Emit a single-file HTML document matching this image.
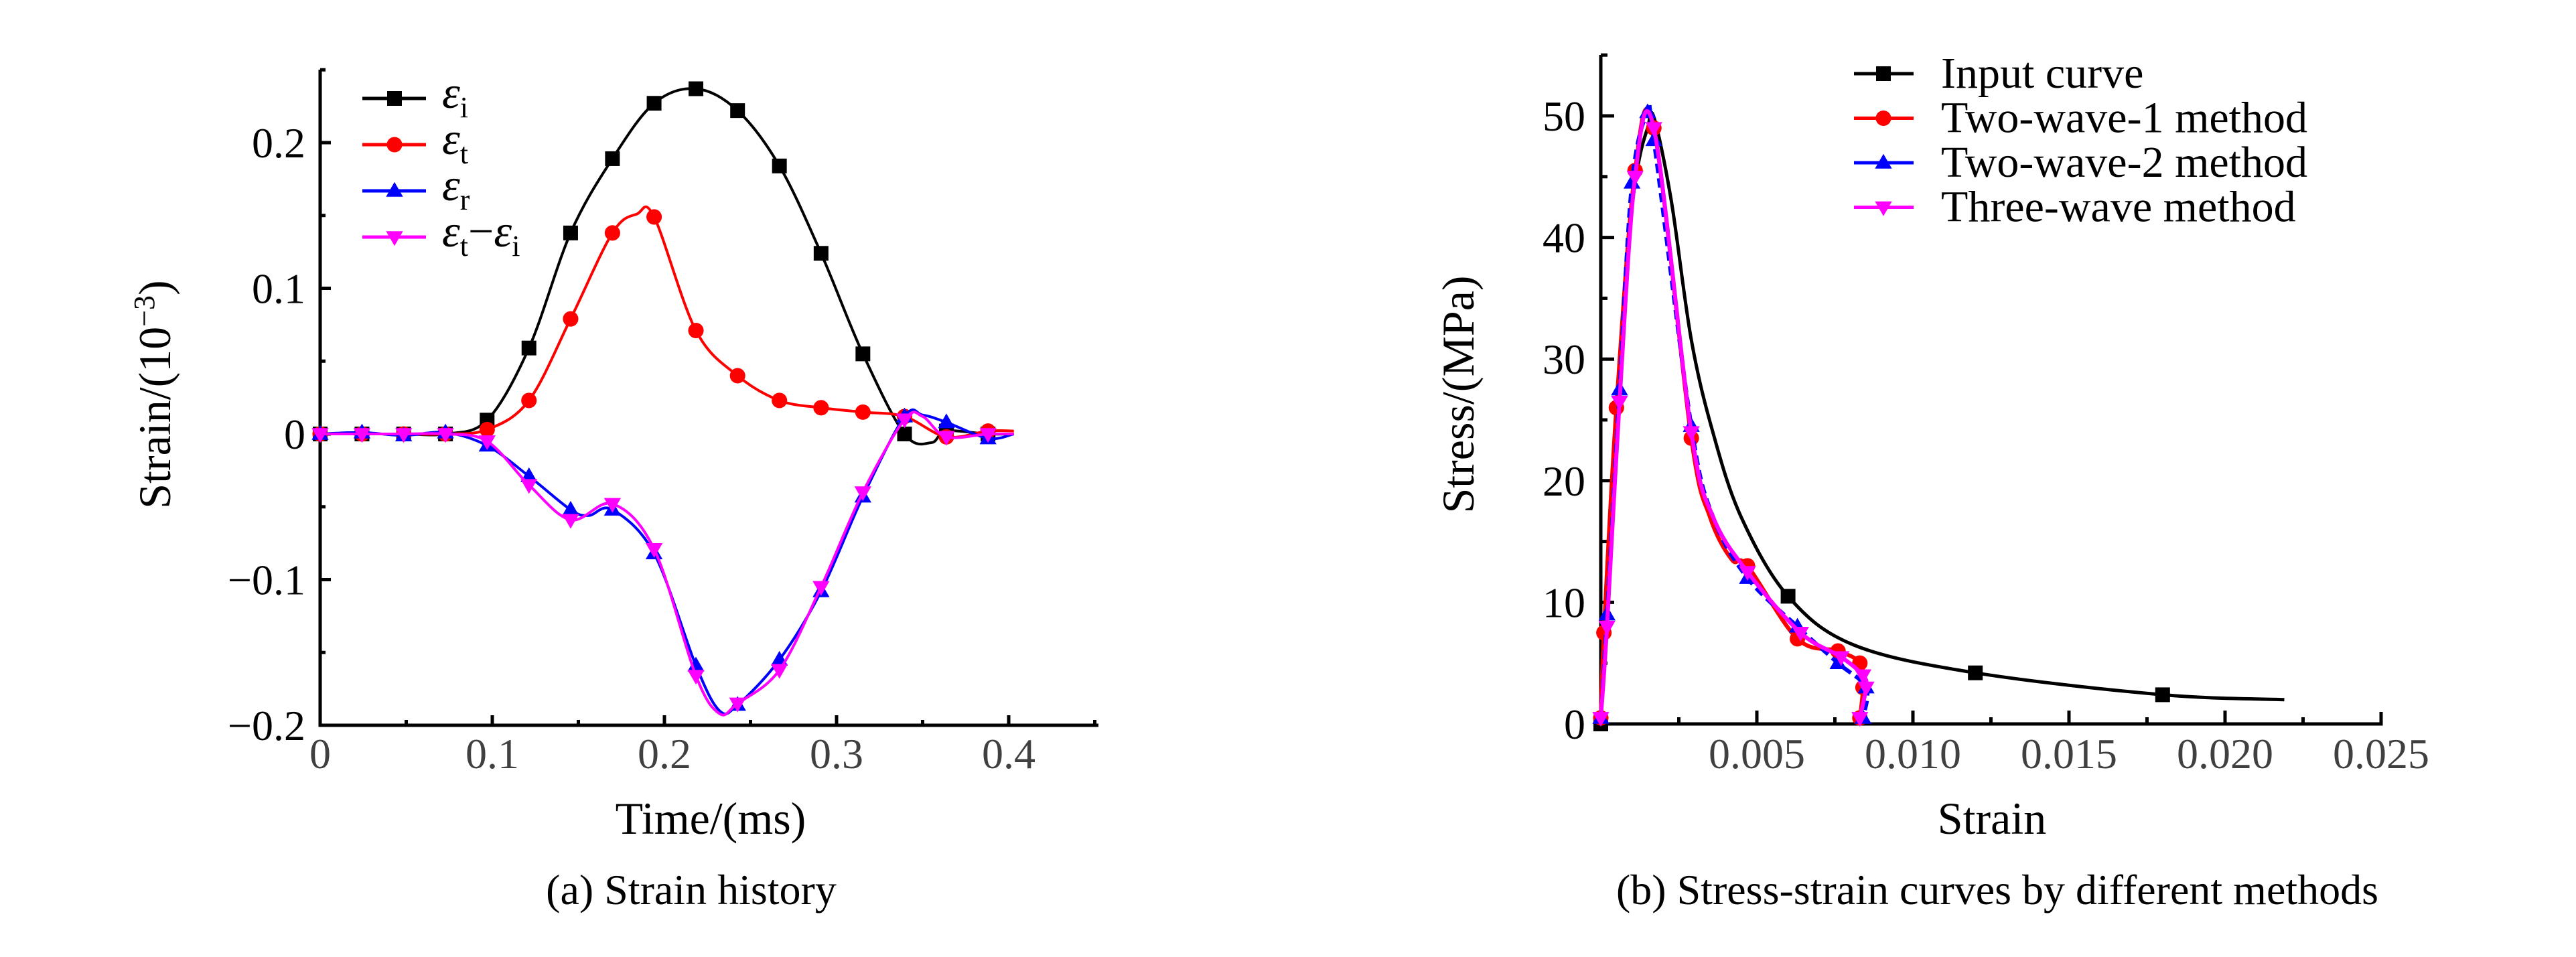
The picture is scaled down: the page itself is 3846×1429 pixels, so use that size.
<!DOCTYPE html>
<html><head><meta charset="utf-8">
<style>
html,body{margin:0;padding:0;background:#fff;}
svg{display:block;font-family:"Liberation Serif",serif;}
svg text{font-family:"Liberation Serif",serif;}
</style></head>
<body>
<svg id="fig" width="3846" height="1429" viewBox="0 0 3846 1429" xmlns="http://www.w3.org/2000/svg" font-family="Liberation Serif, serif">
<g id="chartA"></g>
<g id="chartB"></g>
</svg>
<script>
// ---------- Chart A data ----------
const aTicksX = [0, 0.1, 0.2, 0.3, 0.4];
const aTickLabelsX = ["0", "0.1", "0.2", "0.3", "0.4"];
const aTicksY = [-0.2, -0.1, 0, 0.1, 0.2];
const aTickLabelsY = ["\u22120.2", "\u22120.1", "0", "0.1", "0.2"];
const aNames = ["\u03b5i", "\u03b5t", "\u03b5r", "\u03b5t\u2212\u03b5i"];
const eiT = [0,0.0243,0.0485,0.0728,0.097,0.1213,0.1455,0.1698,0.194,0.2183,0.2425,0.2668,0.291,0.3153,0.3395,0.355,0.3638,0.388,0.403];
const eiV = [0,0,0,0,0.0095,0.059,0.138,0.189,0.227,0.237,0.222,0.184,0.124,0.055,0,-0.006,0.002,0,0];
const etT = [0,0.0243,0.0485,0.0728,0.097,0.1213,0.1455,0.1698,0.184,0.194,0.2183,0.2425,0.2668,0.291,0.3153,0.3395,0.3638,0.388,0.403];
const etV = [0,0,0,0,0.003,0.023,0.079,0.138,0.151,0.149,0.071,0.040,0.023,0.018,0.015,0.012,-0.002,0.002,0.002];
const erT = [0,0.0243,0.0485,0.0728,0.097,0.1213,0.1455,0.156,0.1698,0.194,0.2183,0.232,0.2425,0.2668,0.291,0.3153,0.3395,0.35,0.3638,0.388,0.403];
const erV = [0,0.001,-0.001,0.001,-0.008,-0.029,-0.052,-0.056,-0.052,-0.082,-0.159,-0.19,-0.186,-0.155,-0.108,-0.043,0.012,0.013,0.008,-0.003,0];
const edT = [0,0.0243,0.0485,0.0728,0.097,0.1213,0.1455,0.1698,0.194,0.2183,0.232,0.2425,0.2668,0.291,0.3153,0.3395,0.35,0.3638,0.388,0.403];
const edV = [0,0,0,0,-0.005,-0.035,-0.059,-0.048,-0.079,-0.166,-0.192,-0.185,-0.162,-0.105,-0.04,0.01,0.012,-0.002,0,0];

// ---------- Chart B data ----------
const bTicksX = [0.005, 0.010, 0.015, 0.020, 0.025];
const bTickLabelsX = ["0.005", "0.010", "0.015", "0.020", "0.025"];
const bTicksY = [0, 10, 20, 30, 40, 50];
const bTickLabelsY = ["0", "10", "20", "30", "40", "50"];
const bNames = ["Input curve", "Two-wave-1 method", "Two-wave-2 method", "Three-wave method"];
const inX = [0,0.0001,0.0003,0.0005,0.0009,0.0012,0.0015,0.0017,0.00226,0.0029,0.0036,0.0045,0.006,0.0081,0.012,0.018,0.0219];
const inY = [0,5,16,26,40,46,49,49.9,43,31.6,23.9,17,10.5,6.5,4.2,2.4,2.0];
const inMk = [0,12,14,15];
const w1X = [0,0.0001,0.0005,0.0011,0.0017,0.0029,0.0035,0.0042,0.0047,0.0063,0.0076,0.0083,0.0084,0.0083];
const w1Y = [0.5,7.5,26,45.5,49,23.5,17,13.5,13,7,6,5,3,0.5];
const w1Mk = [0,1,2,3,4,5,8,9,10,11,12,13];
const w2X = [0,0.0002,0.0006,0.001,0.0015,0.0017,0.0029,0.0036,0.0047,0.0063,0.0076,0.0085,0.0084];
const w2Y = [0.5,9,27.5,44.5,50.3,48,24.5,17,12,8,5,3,0.5];
const w2Mk = [0,1,2,3,4,5,6,8,9,10,11,12];
const w3X = [0,0.0002,0.0006,0.0011,0.0017,0.0029,0.0036,0.0047,0.0064,0.0077,0.0084,0.0085,0.0083];
const w3Y = [0.5,8,26.5,45,49,24,17,12.5,7.5,5.5,4,3,0.5];
const w3Mk = [0,1,2,3,4,5,7,8,9,10,11,12];

const NS = "http://www.w3.org/2000/svg";
function mk(tag, attrs, parent){ const e=document.createElementNS(NS,tag); for(const k in attrs) e.setAttribute(k,attrs[k]); parent.appendChild(e); return e; }
function txt(s, attrs, parent){ const e=mk("text",attrs,parent); e.textContent=s; return e; }
function smoothPath(pts){
  let d="M"+pts[0][0].toFixed(1)+","+pts[0][1].toFixed(1);
  for(let i=0;i<pts.length-1;i++){
    const p0=pts[Math.max(0,i-1)],p1=pts[i],p2=pts[i+1],p3=pts[Math.min(pts.length-1,i+2)];
    const c1=[p1[0]+(p2[0]-p0[0])/6,p1[1]+(p2[1]-p0[1])/6];
    const c2=[p2[0]-(p3[0]-p1[0])/6,p2[1]-(p3[1]-p1[1])/6];
    d+=" C"+c1[0].toFixed(1)+","+c1[1].toFixed(1)+" "+c2[0].toFixed(1)+","+c2[1].toFixed(1)+" "+p2[0].toFixed(1)+","+p2[1].toFixed(1);
  }
  return d;
}
function marker(type,x,y,color,parent,s){
  let e;
  if(type==="square") e=mk("rect",{x:x-s,y:y-s,width:2*s,height:2*s,fill:color},parent);
  else if(type==="circle") e=mk("circle",{cx:x,cy:y,r:s*1.05,fill:color},parent);
  else if(type==="up") e=mk("polygon",{points:`${x},${y-s*1.2} ${x-s*1.15},${y+s*0.8} ${x+s*1.15},${y+s*0.8}`,fill:color},parent);
  else e=mk("polygon",{points:`${x},${y+s*1.2} ${x-s*1.15},${y-s*0.8} ${x+s*1.15},${y-s*0.8}`,fill:color},parent);
  return e;
}
const colors=["#000000","#ff0000","#0000ff","#ff00ff"];
const mtypes=["square","circle","up","down"];
const FF="Liberation Serif, serif";

// ================= Chart A =================
(function(){
  const g=document.getElementById("chartA");
  const X0=478, XW=2570;
  const Y0=648, YS=2175;
  const ax=t=>X0+t*XW, ay=v=>Y0-v*YS;
  const left=478, right=1640, top=104, bottom=1083;
  const axes=mk("path",{d:`M${left},${top} L${left},${bottom} L${right},${bottom}`,fill:"none",stroke:"#000","stroke-width":5},g);
   
  for(let t=0.05;t<0.46;t+=0.05){ const major=Math.abs(t*10-Math.round(t*10))<1e-6; mk("line",{x1:ax(t),x2:ax(t),y1:bottom,y2:bottom-(major?15:8),stroke:"#000","stroke-width":5},g); }
  for(let v=-0.15;v<0.26;v+=0.05){ const major=Math.abs(v*10-Math.round(v*10))<1e-6; mk("line",{x1:left,x2:left+(major?16:8),y1:ay(v),y2:ay(v),stroke:"#000","stroke-width":5},g); }
  aTicksX.forEach((t,i)=>{ const e=txt(aTickLabelsX[i],{x:ax(t),y:1147,"font-size":64,"font-family":FF,"text-anchor":"middle",fill:"#404040"},g);
      });
  aTicksY.forEach((v,i)=>{ const e=txt(aTickLabelsY[i],{x:456,y:ay(v)+22,"font-size":64,"font-family":FF,"text-anchor":"end",fill:"#000"},g);
      });
  const xt=txt("Time/(ms)",{x:1061,y:1245,"font-size":68,"font-family":FF,"text-anchor":"middle"},g);
   
  const yt=mk("text",{x:0,y:0,"font-size":68,"font-family":FF,"text-anchor":"middle",transform:"translate(254,589) rotate(-90)"},g);
   
  yt.innerHTML='Strain/(10<tspan dy="-24" font-size="44">\u22123</tspan><tspan dy="24">)</tspan>';
  const cap=txt("(a) Strain history",{x:1032,y:1350,"font-size":64,"font-family":FF,"text-anchor":"middle"},g);
   
  const series=[[eiT,eiV],[etT,etV],[erT,erV],[edT,edV]];
  const names=["series-incident","series-transmitted","series-reflected","series-difference"];
  series.forEach((s,k)=>{
    const sg=mk("g",{},g);
     
    const pts=s[0].map((t,i)=>[ax(t),ay(s[1][i])]);
    mk("path",{d:smoothPath(pts),fill:"none",stroke:colors[k],"stroke-width":4},sg);
    s[0].forEach((t,i)=>{ const q=t/0.02425; if(Math.abs(q-Math.round(q))<0.02 && t<0.4){ const m=marker(mtypes[k],ax(t),ay(s[1][i]),colors[k],sg,11);
        } });
  });
  aNames.forEach((n,k)=>{
    const y=147+k*69;
    const lg=mk("g",{},g);
     
    mk("line",{x1:541,x2:636,y1:y,y2:y,stroke:colors[k],"stroke-width":5},lg);
    marker(mtypes[k],589,y,colors[k],lg,11);
    const parts=n.split("\u2212");
    const t=mk("text",{x:660,y:y+14,"font-size":68,"font-family":FF},lg);
    let html="";
    parts.forEach((p,j)=>{ if(j>0) html+='<tspan dy="-14">\u2212</tspan>'; html+='<tspan font-style="italic">'+p[0]+'</tspan><tspan dy="14" font-size="44">'+p.slice(1)+'</tspan>'; });
    t.innerHTML=html;
  });
})();

// ================= Chart B =================
(function(){
  const g=document.getElementById("chartB");
  const X0=2390, XS=46600;
  const Y0=1081, YS=18.16;
  const bx=v=>X0+v*XS, by=v=>Y0-v*YS;
  const left=2390, right=bx(0.025), top=82, bottom=1081;
  const axes=mk("path",{d:`M${left},${top} L${left},${bottom} L${right},${bottom} L${right},${bottom-18}`,fill:"none",stroke:"#000","stroke-width":5},g);
   
  for(let i=1;i<10;i++){ const v=i*0.0025; const major=i%2===0; mk("line",{x1:bx(v),x2:bx(v),y1:bottom,y2:bottom-(major?20:10),stroke:"#000","stroke-width":5},g); }
  for(let i=1;i<=11;i++){ const v=i*5; const major=i%2===0; mk("line",{x1:left,x2:left+(major?20:10),y1:by(v),y2:by(v),stroke:"#000","stroke-width":5},g); }
  bTicksX.forEach((v,i)=>{ const e=txt(bTickLabelsX[i],{x:bx(v),y:1147,"font-size":64,"font-family":FF,"text-anchor":"middle",fill:"#404040"},g);
      });
  bTicksY.forEach((v,i)=>{ const e=txt(bTickLabelsY[i],{x:2367,y:by(v)+22,"font-size":64,"font-family":FF,"text-anchor":"end",fill:"#000"},g);
      });
  const xt=txt("Strain",{x:2974,y:1245,"font-size":68,"font-family":FF,"text-anchor":"middle"},g);
   
  const yt=txt("Stress/(MPa)",{x:0,y:0,"font-size":68,"font-family":FF,"text-anchor":"middle",transform:"translate(2200,589) rotate(-90)"},g);
   
  const cap=txt("(b) Stress-strain curves by different methods",{x:2982,y:1350,"font-size":64,"font-family":FF,"text-anchor":"middle"},g);
   
  const series=[[inX,inY,inMk],[w1X,w1Y,w1Mk],[w2X,w2Y,w2Mk],[w3X,w3Y,w3Mk]];
  const names=["series-input-curve","series-two-wave-1","series-two-wave-2","series-three-wave"];
  const dash=["", "", "14,8", ""];
  series.forEach((s,k)=>{
    const sg=mk("g",{},g);
     
    const pts=s[0].map((x,i)=>[bx(x),by(s[1][i])]);
    const p=mk("path",{d:smoothPath(pts),fill:"none",stroke:colors[k],"stroke-width":k===0?5:6},sg);
    if(dash[k]) p.setAttribute("stroke-dasharray",dash[k]);
    s[2].forEach(i=>{ const m=marker(mtypes[k],bx(s[0][i]),by(s[1][i]),colors[k],sg,11);
        });
  });
  bNames.forEach((n,k)=>{
    const y=110+k*66.5;
    const lg=mk("g",{},g);
     
    mk("line",{x1:2768,x2:2857,y1:y,y2:y,stroke:colors[k],"stroke-width":5},lg);
    marker(mtypes[k],2812,y,colors[k],lg,11);
    txt(n,{x:2898,y:y+21,"font-size":66,"font-family":FF},lg);
  });
})();
</script>
</body></html>
